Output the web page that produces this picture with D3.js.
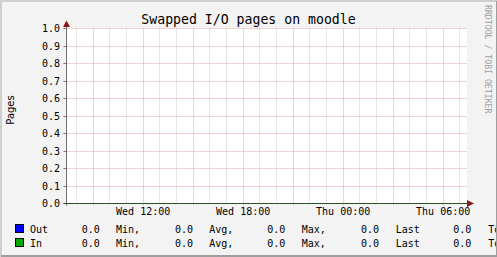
<!DOCTYPE html>
<html><head><meta charset="utf-8">
<script src="https://cdn.jsdelivr.net/npm/d3@7"></script>
<style>html,body{margin:0;padding:0;background:#f3f3f3;}svg{display:block;}</style>
</head><body>
<svg id="c" width="497" height="257"></svg>
<script>
// ---- data ----
const times = ["2024-01-10T07:30Z","2024-01-10T08:30Z","2024-01-10T09:30Z","2024-01-10T10:30Z","2024-01-10T11:30Z","2024-01-10T12:30Z","2024-01-10T13:30Z","2024-01-10T14:30Z","2024-01-10T15:30Z","2024-01-10T16:30Z","2024-01-10T17:30Z","2024-01-10T18:30Z","2024-01-10T19:30Z","2024-01-10T20:30Z","2024-01-10T21:30Z","2024-01-10T22:30Z","2024-01-10T23:30Z","2024-01-11T00:30Z","2024-01-11T01:30Z","2024-01-11T02:30Z","2024-01-11T03:30Z","2024-01-11T04:30Z","2024-01-11T05:30Z","2024-01-11T06:30Z","2024-01-11T07:20Z"];
const outValues = [0,0,0,0,0,0,0,0,0,0,0,0,0,0,0,0,0,0,0,0,0,0,0,0,0];
const inValues  = [0,0,0,0,0,0,0,0,0,0,0,0,0,0,0,0,0,0,0,0,0,0,0,0,0];
const seriesNames = ["Out","In"];
const yTicks = [0,0.1,0.2,0.3,0.4,0.5,0.6,0.7,0.8,0.9,1.0];
const xLabelTimes = ["2024-01-10T12:00Z","2024-01-10T18:00Z","2024-01-11T00:00Z","2024-01-11T06:00Z"];
const statLabels = ["Min,","Avg,","Max,","Last","Total"];
const title = "Swapped I/O pages on moodle";
const yTitle = "Pages";
const watermark = "RRDTOOL / TOBI OETIKER";

// ---- layout ----
const svg = d3.select("#c");
const W = 497, H = 257;
const mono = "'DejaVu Sans Mono', monospace";
const L = 66.5, R = 466.5, T = 28.5, B = 203.5;
const x = d3.scaleUtc().domain([new Date("2024-01-10T07:24Z"), new Date("2024-01-11T07:24Z")]).range([L, R]);
const y = d3.scaleLinear().domain([0, 1]).range([B, T]);

svg.append("rect").attr("width", W).attr("height", H).attr("fill", "#f3f3f3");
svg.append("rect").attr("x", 66).attr("y", 28).attr("width", 401).attr("height", 176).attr("fill", "#ffffff");

const g = svg.append("g");
// minor vertical grid (hourly)
x.ticks(d3.utcHour.every(1)).forEach(t => {
  if (t.getUTCHours() % 3 === 0) return;
  const xx = Math.round(x(t) - 0.5) + 0.5;
  g.append("line").attr("x1", xx).attr("x2", xx).attr("y1", T).attr("y2", B)
    .attr("stroke", "#cdcdcd").attr("stroke-dasharray", "1,1");
});
// major vertical grid (3 h)
x.ticks(d3.utcHour.every(3)).forEach(t => {
  const xx = Math.round(x(t) - 0.5) + 0.5;
  g.append("line").attr("x1", xx).attr("x2", xx).attr("y1", T).attr("y2", B + 2)
    .attr("stroke", "#e2a3a3").attr("stroke-dasharray", "1,1");
});
// horizontal grid
yTicks.forEach(v => {
  const yy = Math.round(y(v) - 0.5) + 0.5;
  g.append("line").attr("x1", L - 3).attr("x2", R).attr("y1", yy).attr("y2", yy)
    .attr("stroke", "#e2a3a3").attr("stroke-dasharray", "1,1");
  g.append("line").attr("x1", L - 3).attr("x2", L).attr("y1", yy).attr("y2", yy)
    .attr("stroke", "#777");
  g.append("text").attr("x", 60).attr("y", yy + 3.5).attr("text-anchor", "end")
    .attr("font-family", mono).attr("font-size", 10).attr("fill", "#000")
    .text(d3.format(".1f")(v));
});

// data lines
const colors = ["#0000ff", "#00aa00"];
[outValues, inValues].forEach((vals, i) => {
  const line = d3.line().x((d, j) => x(new Date(times[j]))).y(d => y(d));
  svg.append("path").datum(vals).attr("d", line).attr("fill", "none")
    .attr("stroke", colors[i]).attr("stroke-width", 1);
});

// axes
svg.append("line").attr("x1", L).attr("x2", L).attr("y1", 22).attr("y2", B + 2).attr("stroke", "#6e6e6e");
svg.append("line").attr("x1", L - 3).attr("x2", 470).attr("y1", B).attr("y2", B).attr("stroke", "#265426");
svg.append("path").attr("d", `M${L - 3.5},${27} L${L},${20.5} L${L + 3.5},${27} Z`).attr("fill", "#8b1a1a");
svg.append("path").attr("d", `M${467},${B - 3.5} L${474},${B} L${467},${B + 3.5} Z`).attr("fill", "#8b1a1a");

// x labels
xLabelTimes.forEach(s => {
  const t = new Date(s);
  svg.append("text").attr("x", x(t)).attr("y", 215).attr("text-anchor", "middle")
    .attr("font-family", mono).attr("font-size", 10).attr("fill", "#000")
    .text(d3.utcFormat("%a %H:%M")(t));
});

// title
svg.append("text").attr("x", 248.5).attr("y", 24).attr("text-anchor", "middle")
  .attr("font-family", mono).attr("font-size", 13.2).attr("fill", "#000").text(title);
// y title
svg.append("text").attr("transform", "translate(13.5,110) rotate(-90)").attr("text-anchor", "middle")
  .attr("font-family", "'DejaVu Sans', sans-serif").attr("font-size", 10).attr("fill", "#000").text(yTitle);
// watermark
svg.append("text").attr("transform", "translate(485,5) rotate(90)").attr("text-anchor", "start")
  .attr("font-family", mono).attr("font-size", 8.2).attr("fill", "#a0a0a0").text(watermark);

// legend
const rowY = [233, 247];
const valX = [81.7, 175, 267.3, 361, 453.3];
const labX = [116, 209.3, 301.7, 395.7, 488.3];
[outValues, inValues].forEach((vals, i) => {
  const stats = [d3.min(vals), d3.mean(vals), d3.max(vals), vals[vals.length - 1], 0];
  svg.append("rect").attr("x", 15.5).attr("y", rowY[i] - 8.5).attr("width", 8).attr("height", 8)
    .attr("fill", colors[i]).attr("stroke", "#000");
  svg.append("text").attr("x", 30).attr("y", rowY[i]).attr("font-family", mono).attr("font-size", 10)
    .attr("fill", "#000").text(seriesNames[i]);
  statLabels.forEach((lab, k) => {
    svg.append("text").attr("x", valX[k]).attr("y", rowY[i]).attr("font-family", mono).attr("font-size", 10)
      .attr("fill", "#000").text(d3.format(".1f")(stats[k]));
    svg.append("text").attr("x", labX[k]).attr("y", rowY[i]).attr("font-family", mono).attr("font-size", 10)
      .attr("fill", "#000").text(lab);
  });
});

// frame
svg.append("line").attr("x1", 0).attr("x2", W).attr("y1", 0.5).attr("y2", 0.5).attr("stroke", "#cfcfcf");
svg.append("line").attr("x1", 0).attr("x2", W).attr("y1", 1.5).attr("y2", 1.5).attr("stroke", "#cfcfcf");
svg.append("line").attr("x1", 0.5).attr("x2", 0.5).attr("y1", 0).attr("y2", H).attr("stroke", "#cfcfcf");
svg.append("line").attr("x1", 1.5).attr("x2", 1.5).attr("y1", 0).attr("y2", H).attr("stroke", "#cfcfcf");
svg.append("rect").attr("x", 496).attr("y", 1).attr("width", 1).attr("height", H).attr("fill", "#9e9e9e");
svg.append("rect").attr("x", 1).attr("y", 255).attr("width", W).attr("height", 2).attr("fill", "#9e9e9e");
</script>
</body></html>
